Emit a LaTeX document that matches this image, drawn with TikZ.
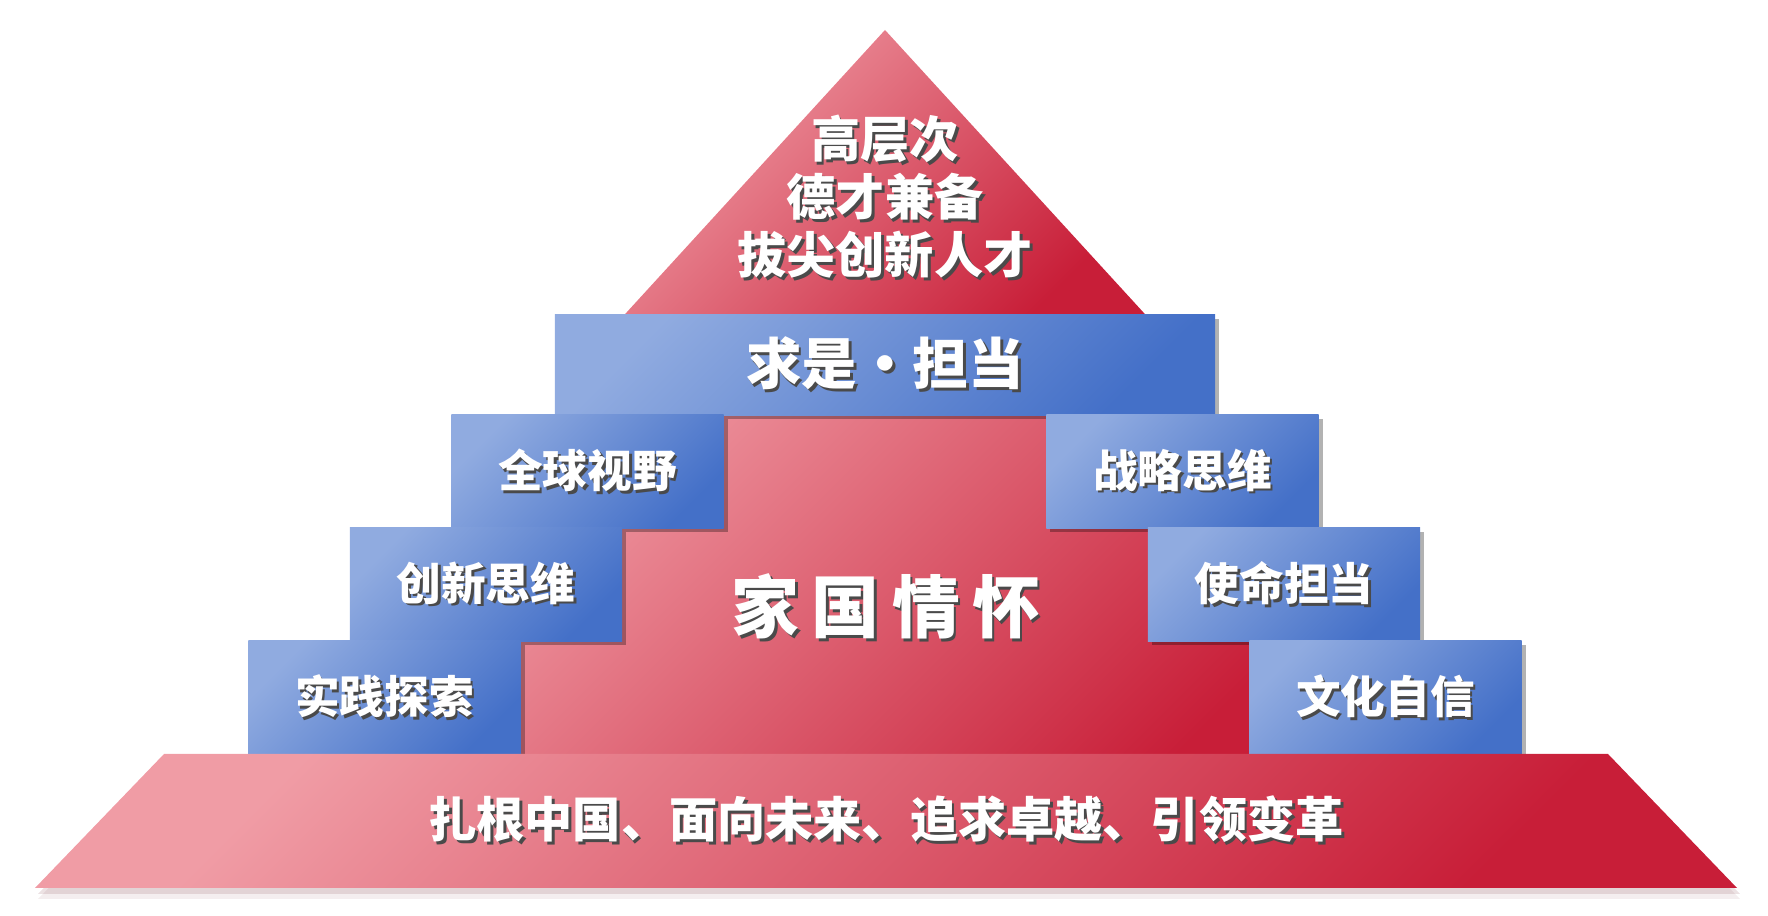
\documentclass[tikz,border=0pt]{standalone}
\usepackage{fontspec}
\newfontfamily\cjk{Noto Sans CJK SC}
\usetikzlibrary{shadows}
\definecolor{blueL}{HTML}{90ABE0}
\definecolor{blueD}{HTML}{4470C8}
\definecolor{redL}{HTML}{F09CA5}
\definecolor{redD}{HTML}{C81E38}
\definecolor{txtshd}{HTML}{4A4A4A}
\newcommand{\shd}[1]{\rlap{\kern.8pt\raisebox{-.8pt}{\color{txtshd}#1}}#1}
\tikzset{
  redpart/.style={top color=redL, bottom color=redD, shading angle=45},
  bluebox/.style={top color=blueL, bottom color=blueD, shading angle=45,
    minimum width=2.72cm, minimum height=1.13cm, inner sep=0pt, text=white,
    font=\cjk\bfseries\fontsize{12.7}{15}\selectfont,
    drop shadow={shadow xshift=.4mm, shadow yshift=-.4mm, opacity=.3, fill=black}},
}
\begin{document}
\begin{tikzpicture}[x=0.01cm, y=-0.01cm]
\useasboundingbox (0,0) rectangle (1768,916);
% peak and middle
\shade[redpart] (885,30) -- (1148.5,318) -- (621.5,318) -- cycle;
\shade[redpart] (600,412) -- (1170,412) -- (1370,756) -- (400,756) -- cycle;
\node[bluebox, minimum width=6.6cm, minimum height=1cm, font=\cjk\bfseries\fontsize{15.8}{18}\selectfont] (n0) at (885,365) {\shd{求是\makebox[1em]{·}担当}};
% steps
\node[bluebox] (n1) at (587.5,471.5) {\shd{全球视野}};
\node[bluebox] (n2) at (1182.5,471.5) {\shd{战略思维}};
\node[bluebox] (n3) at (486,584.5) {\shd{创新思维}};
\node[bluebox] (n4) at (1284,584.5) {\shd{使命担当}};
\node[bluebox] (n5) at (384.5,697.5) {\shd{实践探索}};
\node[bluebox] (n6) at (1385.5,697.5) {\shd{文化自信}};
% base
\shade[redpart, drop shadow={shadow xshift=.3mm, shadow yshift=-1.1mm, opacity=.07, fill=redD!50!black},
  drop shadow={shadow xshift=.3mm, shadow yshift=-.6mm, opacity=.12, fill=redD!50!black}]
  (164,754) -- (1608,754) -- (1737,888) -- (35,888) -- cycle;
\node[text=white, align=center, font=\cjk\bfseries\fontsize{14}{16.4}\selectfont] (n7) at (885,198)
  {\shd{高层次}\\\shd{德才兼备}\\\shd{拔尖创新人才}};
\node[text=white, font=\cjk\bfseries\fontsize{19.3}{22}\selectfont] (n8) at (886,608)
  {\shd{家\hspace{.18em}国\hspace{.18em}情\hspace{.18em}怀}};
\node[text=white, font=\cjk\bfseries\fontsize{13.7}{16}\selectfont] (n9) at (886,821)
  {\shd{扎根中国、面向未来、追求卓越、引领变革}};
\end{tikzpicture}
\end{document}
